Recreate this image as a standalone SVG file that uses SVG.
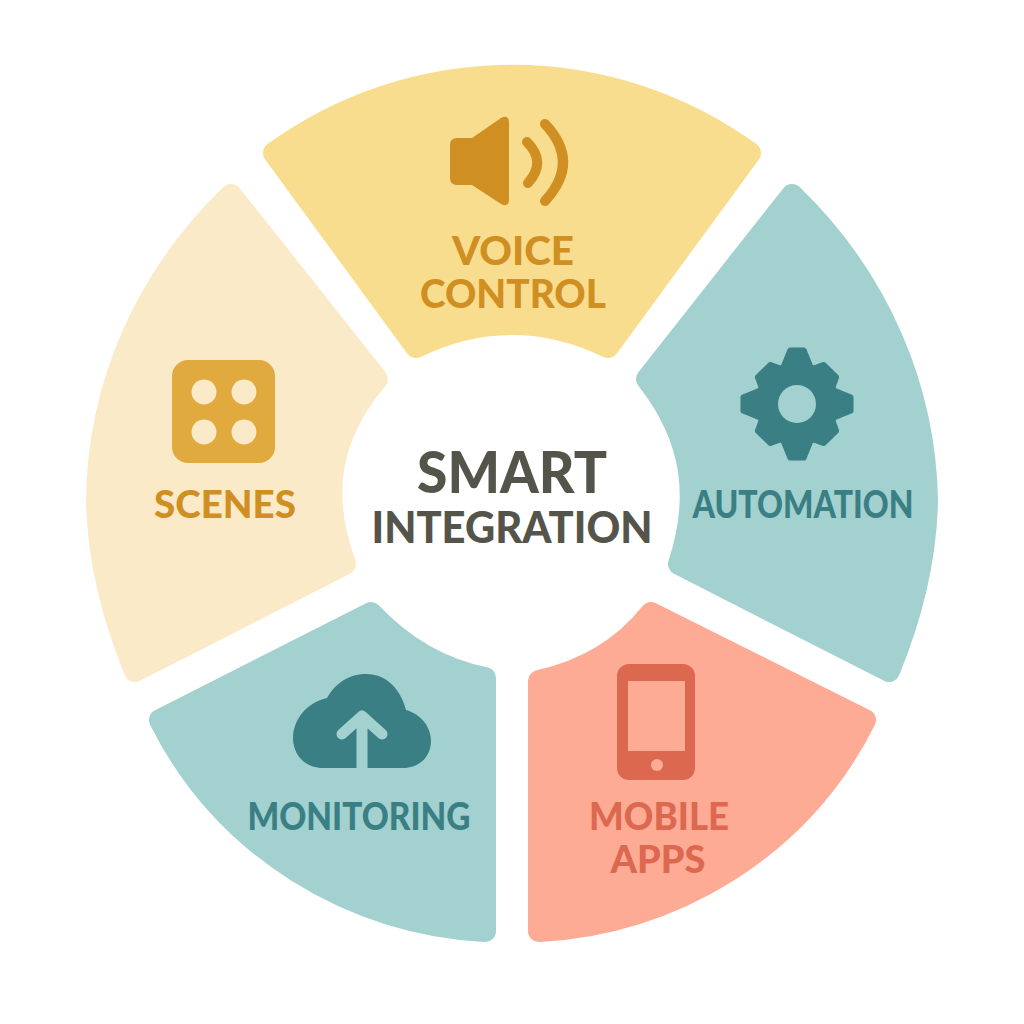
<svg xmlns="http://www.w3.org/2000/svg" width="1024" height="1024" viewBox="0 0 1024 1024">
<style>
text{font-family:"Lato","Liberation Sans",sans-serif;font-weight:900;font-size:38px;text-anchor:middle}
.seg{stroke-linejoin:round;stroke-width:22}
.y{fill:#f9dd8e;stroke:#f9dd8e}.c{fill:#faeac8;stroke:#faeac8}.t{fill:#a2d1cf;stroke:#a2d1cf}.r{fill:#fdab94;stroke:#fdab94}
.ty{fill:#d08f23}.tt{fill:#3a7f84}.tr{fill:#dd6850}
.tooth{fill:#3a7f84;stroke:#3a7f84;stroke-width:5;stroke-linejoin:round}
</style>
<rect width="1024" height="1024" fill="#fff"/>
<g id="voice-control">
<path class="seg y" d="M274 153A414 425 0 0 1 750 153L608 347Q512 301 416 347Z"/>
<path class="ty" d="M457 138H472L501 118Q509 114 509 123V199Q509 208 501 204L472 185H457Q450 185 450 178V145Q450 138 457 138Z"/>
<path d="M527 142Q547 162 528 183M545 124Q581 162 545 201" fill="none" stroke="#d08f23" stroke-width="10" stroke-linecap="round"/>
<text class="ty" x="513" y="265" style="font-size:40px" textLength="122" lengthAdjust="spacingAndGlyphs">VOICE</text>
<text class="ty" x="513" y="308" style="font-size:40px" textLength="186" lengthAdjust="spacingAndGlyphs">CONTROL</text>
</g>
<g id="automation">
<path class="seg t" d="M792 195C880 280 925 390 927 500C926 560 912 615 889 671L679 564C700 500 695 440 647 379Z"/>
<g id="gear">
<circle cx="797" cy="404" r="42" fill="#3a7f84"/>
<polygon class="tooth" points="781,372 790,350 804,350 813,372"/>
<polygon class="tooth" points="781,372 790,350 804,350 813,372" transform="rotate(90 797 404)"/>
<polygon class="tooth" points="781,372 790,350 804,350 813,372" transform="rotate(180 797 404)"/>
<polygon class="tooth" points="781,372 790,350 804,350 813,372" transform="rotate(270 797 404)"/>
<polygon class="tooth" points="781,372 788,357 806,357 813,372" transform="rotate(45 797 404)"/>
<polygon class="tooth" points="781,372 788,357 806,357 813,372" transform="rotate(135 797 404)"/>
<polygon class="tooth" points="781,372 788,357 806,357 813,372" transform="rotate(225 797 404)"/>
<polygon class="tooth" points="781,372 788,357 806,357 813,372" transform="rotate(315 797 404)"/>
<circle cx="797" cy="404" r="19" fill="#a2d1cf"/>
</g>
<text class="tt" x="803" y="518" textLength="221" lengthAdjust="spacingAndGlyphs">AUTOMATION</text>
</g>
<g id="mobile-apps">
<path class="seg r" d="M539 681Q610 665 651 613L865 720C800 850 670 925 539 931Z"/>
<rect class="tr" x="617" y="664" width="78" height="116" rx="12"/>
<rect x="628" y="681" width="57" height="70" fill="#fdab94"/>
<circle cx="657" cy="765" r="6" fill="#fdab94"/>
<text class="tr" x="659" y="830" textLength="140" lengthAdjust="spacingAndGlyphs">MOBILE</text>
<text class="tr" x="658" y="873" textLength="95" lengthAdjust="spacingAndGlyphs">APPS</text>
</g>
<g id="monitoring">
<path class="seg t" d="M485 678Q420 665 371 613L160 720C225 850 355 925 485 931Z"/>
<path class="tt" d="M323 768C305 768 293 755 293 738C293 720 307 702 327 698C335 684 348 674 366 674C387 674 401 690 406 710C421 714 431 727 431 741C431 757 419 768 403 768Z"/>
<path d="M362 769V718M342 734L362 716 382 734" fill="none" stroke="#a2d1cf" stroke-width="11" stroke-linecap="round" stroke-linejoin="round"/>
<text class="tt" x="359" y="830" textLength="223" lengthAdjust="spacingAndGlyphs">MONITORING</text>
</g>
<g id="scenes">
<path class="seg c" d="M231 195C143 280 98 390 97 500C98 560 112 615 135 671L345 564C322 500 325 440 377 379Z"/>
<rect x="172" y="360" width="103" height="103" rx="16" fill="#e0aa3e"/>
<g fill="#faeac8"><circle cx="204" cy="392" r="12.5"/><circle cx="244" cy="392" r="12.5"/><circle cx="204" cy="432" r="12.5"/><circle cx="244" cy="432" r="12.5"/></g>
<text class="ty" x="225" y="518" textLength="142" lengthAdjust="spacingAndGlyphs">SCENES</text>
</g>
<g id="center">
<text x="512" y="493" fill="#55544a" style="font-size:57px" textLength="190" lengthAdjust="spacingAndGlyphs">SMART</text>
<text x="512" y="543" fill="#55544a" style="font-size:44px" textLength="281" lengthAdjust="spacingAndGlyphs">INTEGRATION</text>
</g>
<g id="connectors"></g>
</svg>
